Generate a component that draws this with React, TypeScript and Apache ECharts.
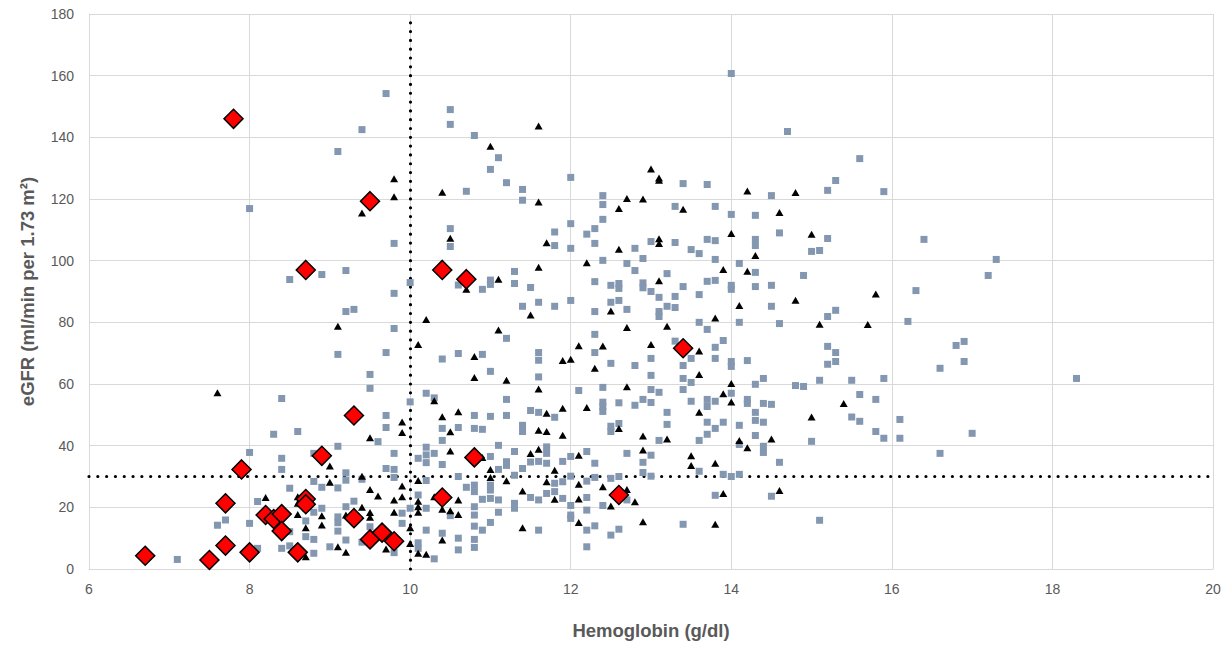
import React, { useEffect, useRef } from "react";
import * as echarts from "echarts";

const xTicks = [6, 8, 10, 12, 14, 16, 18, 20];
const yTicks = [0, 20, 40, 60, 80, 100, 120, 140, 160, 180];
const hbCutoff = 10;
const egfrCutoff = 30;

// gray squares
const squares: number[][] = [
  [9.4,142.5],[9.1,135.4],[8.0,116.9],
  [9.7,154.2],[10.5,149],[10.5,144.2],[10.8,140.6],[11.1,133.4],[11.0,129.6],[11.2,125.3],[11.4,123.1],[11.4,119.6],[12.0,127],[10.7,122.5],[10.5,110.4],[12.4,121.1],[12.4,118.2],[12.4,113.4],[11.8,109.3],[12.0,112],[12.3,110.4],[12.2,108.6],
  [14.0,160.7],[14.7,141.9],[15.6,133.1],[15.3,126],[15.2,122.8],[13.4,125],[13.7,124.7],[13.3,117.6],[13.8,117.6],[14.5,121.1],[14.0,115],[14.3,114.7],[14.6,109],
  [15.9,122.4],
  [16.4,106.9],[17.3,100.4],[17.2,95.2],[16.3,90.3],[16.2,80.3],[16.9,73.8],[16.8,72.5],[16.9,67.3],[16.6,65.1],[15.9,61.8],[18.3,61.8],
  [16.1,48.5],[15.9,42.4],[16.1,42.4],[17.0,44],[16.6,37.5],
  [8.5,93.9],[8.9,95.5],[9.2,96.8],[9.2,83.5],[9.3,84.2],[9.1,69.6],[9.5,63.1],[9.5,58.6],[8.4,55.3],
  [9.8,105.6],[10.5,104.6],[11.8,104.9],[12.0,104],[12.3,105.6],[12.4,100.1],[12.7,99.1],[10.0,92.9],[9.8,89.4],[10.6,92.1],[10.9,90.7],[11.0,93.7],[11.0,92.3],[11.3,96.5],[11.3,92.6],[11.5,91.3],[11.4,85.2],[11.6,86.5],[11.8,85.2],[12.0,87.1],[12.3,93.2],[12.5,92],[12.6,92.6],[12.6,91],[12.5,86.5],[12.6,87.1],[12.3,83.5],[12.7,84.2],[9.8,78],[11.2,74.8],[12.3,76.1],[9.7,70.2],[10.4,68.1],[10.6,69.9],[10.9,69.6],[11.6,70.2],[11.6,67.7],[12.3,70.2],[12.5,66.7],[11.0,64.1],[11.6,62.3],[12.1,57.9],[12.4,58.9],[10.2,57],[10.3,55.5],[10.0,54.2],[11.2,55],[12.4,54.1],[12.6,53.9],
  [13.0,106.2],[13.3,105.9],[12.8,104],[12.9,100.7],[13.5,103.6],[13.6,102.3],[13.7,106.9],[13.8,106.5],[14.3,106.9],[14.3,104.9],[15.2,107.2],[15.0,103],[15.1,103.3],[13.8,100.4],[12.8,96.8],[13.2,95.8],[14.1,99.1],[14.3,96.2],[14.9,95.2],[12.9,92.8],[12.9,91.2],[13.0,90],[13.4,91.6],[13.7,93.3],[13.8,93.6],[14.0,92],[14.0,90.7],[14.3,91.6],[14.5,92],[13.1,88.1],[13.3,88.4],[13.6,89],[13.2,85.2],[13.3,84.8],[13.1,83.5],[13.1,81.9],[14.5,85.2],[15.3,83.9],[15.2,81.9],[13.6,80],[14.1,80],[14.6,79.6],[13.7,77.7],[13.3,73.9],[13.9,74.1],[13.8,71.9],[15.2,72.2],[15.3,70.2],[13.0,68.3],[13.5,68.3],[13.8,68.3],[14.0,67.3],[14.0,65.7],[14.2,67.6],[15.3,67.3],[15.2,66.4],[12.8,66],[13.4,66],[13.0,62.8],[13.4,61.8],[14.4,61.8],[15.1,61.2],[15.5,61.2],[13.5,60.5],[14.3,59.9],[14.8,59.5],[14.9,59.2],[13.0,58.2],[13.4,58.2],[13.1,57.3],[14.0,57],[15.6,56.6],[12.9,55],[13.0,54],[13.5,54.4],[13.7,55],[13.8,54.4],[14.2,55],[14.2,53.7],[14.4,53.7],[14.5,53.4],[15.8,55],
  [12.8,53.1],[13.7,52.7],[13.2,50.8],[15.5,49.3],[15.6,47.9],[14.3,50.8],[13.7,47.6],[13.9,47.6],[13.2,46.9],[13.8,45.6],[14.1,46.6],[14.3,48.2],[14.4,47.6],[15.8,44.6],[13.1,41.7],[13.7,43.7],[13.6,41.7],[14.1,40.4],[14.3,43.3],[14.4,39.8],[14.4,37.8],[15.0,41.4],[13.0,36.9],[12.9,34.6],[14.6,34.6],[12.9,31.3],[13.0,30.1],[13.6,31.7],[13.9,30.7],[14.0,30],[14.1,30.7],[13.8,23.9],[14.5,23.6],[13.4,14.5],[15.1,15.8],
  [9.7,49.8],[9.7,45.9],[10.4,45.6],[10.6,45.9],[10.4,41.7],[10.8,49.8],[11.0,49.5],[11.2,49.8],[10.8,45.6],[10.9,45.3],[11.5,51.4],[11.6,50.8],[11.8,49.2],[11.4,46.6],[11.4,44.6],[11.1,40.1],[12.4,52.7],[12.4,51.1],[12.5,46.3],[12.5,44.6],[12.6,47.2],[9.8,37.5],[9.7,32.6],[9.8,32.3],[9.8,29.7],[9.9,18.1],[9.9,14.8],[10.2,39.5],[10.2,37],[10.2,34.5],[10.1,35.9],[10.3,37.5],[10.4,33.9],[11.0,36.5],[11.2,34.8],[11.2,33.6],[11.3,38.1],[11.1,32.3],[11.4,32.6],[11.5,34.7],[11.6,34.9],[11.7,39.6],[11.7,37.5],[11.7,34.3],[11.9,34.9],[12.0,36.5],[12.2,38.1],[12.3,34.3],[12.7,37.5],[10.6,30],[10.2,28.7],[11.0,27.2],[11.0,25.6],[10.7,26.5],[10.8,27.2],[10.8,25.1],[11.3,30.4],[11.5,23.2],[11.6,22.4],[11.7,24.5],[11.8,27.8],[11.8,25.1],[11.9,22.9],[11.9,28.3],[12.0,30.1],[12.2,28.5],[12.2,23.2],[12.2,19.1],[12.4,20.6],[12.7,22.4],[12.5,29.4],[12.3,29.7],[12.6,30],[12.0,20.6],[12.0,17.5],[12.0,16.4],[12.2,12.6],[12.3,14],[12.2,7.2],[12.5,11],[12.6,12.9],[11.6,12.6],[11.3,21.3],[11.3,19.7],[11.1,22.4],[11.1,18.4],[10.9,22.6],[11.0,22.9],[10.8,20.2],[10.8,17.5],[11.0,15.1],[10.9,12.6],[10.8,13.9],[10.8,9.6],[10.8,7],[10.5,17.3],[10.2,19.7],[10.1,24],[10.0,19.7],[10.2,12.6],[10.4,11.6],[10.6,10],[10.6,6.2],[10.1,8.5],[10.1,6.7],[10.3,3.3],[9.8,5.3],
  [8.3,43.7],[8.6,44.6],[9.6,41.3],[9.1,39.8],[8.0,37.8],[8.4,35.9],[8.4,32.3],[8.8,37.5],[9.2,31.2],[9.2,28.8],[9.1,26.3],[9.4,29.1],[8.8,28.4],[8.9,26.5],[8.5,26.2],[8.1,21.9],[8.7,19.7],[8.8,18.4],[8.9,19.7],[8.7,15.6],[9.1,16.9],[9.1,15],[9.0,7.2],[9.1,12.3],[9.2,9.4],[9.2,20.2],[9.5,13.7],[9.4,8.7],[9.3,22],[8.8,9.6],[8.7,10.5],[8.5,7.5],[8.4,6.7],[8.8,5.1],[8.5,12.1],[8.1,6.7],[8.0,14.8],[7.7,15.9],[7.6,14.2],[7.1,3.1]
];

// black triangles
const triangles: number[][] = [
  [9.4,115.5],
  [11.6,143.7],[11.0,137.1],[11.6,119],[9.8,126.6],[9.8,120.7],[10.4,122.2],[12.6,116.9],[12.7,120.2],
  [13.0,129.7],[13.1,126.1],[13.1,126.8],[12.9,120],[13.4,116.7],[14.2,122.6],[14.8,122.1],[14.6,115.6],[15.0,108.6],[14.0,108.8],
  [9.1,78.7],[7.6,57.2],
  [10.5,107.3],[11.7,105.8],[12.6,103.7],[12.2,99.3],[10.7,90.7],[11.1,94],[11.6,97.9],[11.5,82.4],[12.5,83.7],[10.2,80.9],[11.1,77.5],[12.7,78.3],[10.1,72.8],[10.8,68.9],[11.9,67.6],[12.0,68],[12.1,72.4],[12.4,72.3],[12.3,65.1],[10.8,62.1],[11.2,61.2],[11.6,58.4],[12.7,59.1],[10.3,54.6],
  [13.1,107.1],[13.1,105.6],[14.3,101.7],[13.9,97.1],[14.2,96.6],[13.1,93.5],[15.8,89.2],[14.8,87.2],[14.1,85.5],[13.8,81.4],[15.1,79.4],[15.7,79.3],[13.2,78.7],[13.0,72.8],[13.6,70.7],[13.6,63.1],[14.0,60.2],[13.9,56.8],[14.0,54.2],[15.4,53.7],
  [13.6,50.8],[15.0,49.3],[12.9,43.1],[13.2,42.2],[14.1,41.7],[14.5,42.2],[14.2,39.3],[12.9,38.6],[13.5,36.7],[13.5,33.6],[13.8,34.3],[13.9,24.5],[14.6,25.5],[12.8,21.8],[12.9,15.3],[13.8,14.5],
  [9.9,47.7],[9.9,44.3],[10.4,49.4],[10.6,51],[10.5,44.5],[11.7,50.5],[11.9,52.1],[11.6,45],[11.7,44.6],[11.9,43.4],[12.2,52.4],[12.6,45.6],[9.9,26.9],[9.9,23.4],[9.8,22.4],[9.8,18.4],[10.5,38.3],[10.9,36.2],[11.0,32.3],[11.5,37.5],[11.6,38.8],[11.8,32],[12.1,36.9],[10.1,28.7],[11.0,29.7],[11.2,28.6],[11.4,25.3],[11.7,28.3],[11.8,22.6],[12.1,27.5],[12.1,22.7],[12.4,26.7],[12.5,20.4],[12.7,25.8],[12.1,15.1],[11.4,13.4],[10.6,22.4],[10.5,18.9],[10.6,17.7],[10.3,23.4],[10.4,19.4],[10.1,22],[10.1,20.2],[10.1,18.4],[10.0,13.4],[10.4,9.4],[10.1,5.1],[10.2,4.8],[9.7,6.5],[10.0,8.3],
  [9.5,42.6],[9.0,33.4],[9.0,28.1],[9.4,30.1],[9.5,25.8],[9.6,23.7],[8.2,23.2],[8.6,23.4],[8.6,21.3],[8.9,17.3],[8.6,17.7],[8.7,13.4],[8.9,14.3],[9.1,7.2],[9.2,5.4],[9.2,17.5],[9.4,20],[9.5,18.3],[9.5,16.8],[8.7,4],[8.0,5.6]
];

// red diamonds
const diamonds: number[][] = [
  [6.7,4.3],[7.5,2.9],[7.7,7.6],[7.7,21.3],[7.8,146],[7.9,32.3],[8.0,5.4],[8.2,17.5],[8.3,16.2],[8.4,17.8],[8.4,12.3],[8.6,5.4],[8.7,22.7],[8.7,21.0],[8.7,97],[8.9,36.7],[9.3,49.8],[9.3,16.5],[9.5,9.6],[9.5,119.3],[9.65,11.8],[9.8,9.0],[10.4,97],[10.4,23.2],[10.7,94],[10.8,36.2],[12.6,24],[13.4,71.6]
];

const xTitle = "Hemoglobin (g/dl)";
const yTitle = "eGFR (ml/min per 1.73 m\u00B2)";

export default function App() {
  const ref = useRef<HTMLDivElement>(null);
  useEffect(() => {
    if (!ref.current) return;
    const chart = echarts.init(ref.current, undefined, { renderer: "svg" });
    const labelColor = "#595959";
    const font = "'Liberation Sans', Arial, sans-serif";
    chart.setOption({
      animation: false,
      backgroundColor: "#ffffff",
      grid: { left: 89, right: 18, top: 14, bottom: 76, containLabel: false },
      xAxis: {
        type: "value",
        min: xTicks[0],
        max: xTicks[xTicks.length - 1],
        interval: 2,
        name: xTitle,
        nameLocation: "middle",
        nameGap: 52,
        nameTextStyle: { color: labelColor, fontSize: 18.5, fontWeight: "bold", fontFamily: font },
        axisLine: { show: true, lineStyle: { color: "#d9d9d9" } },
        axisTick: { show: false },
        axisLabel: { color: labelColor, fontSize: 14, fontFamily: font, margin: 13 },
        splitLine: { show: true, lineStyle: { color: "#d9d9d9", width: 1 } },
      },
      yAxis: {
        type: "value",
        min: yTicks[0],
        max: yTicks[yTicks.length - 1],
        interval: 20,
        name: yTitle,
        nameLocation: "middle",
        nameGap: 52,
        nameRotate: 90,
        nameTextStyle: { color: labelColor, fontSize: 18.5, fontWeight: "bold", fontFamily: font },
        axisLine: { show: true, lineStyle: { color: "#d9d9d9" } },
        axisTick: { show: false },
        axisLabel: { color: labelColor, fontSize: 14, fontFamily: font, margin: 15 },
        splitLine: { show: true, lineStyle: { color: "#d9d9d9", width: 1 } },
      },
      series: [
        {
          type: "scatter",
          data: squares,
          symbol: "rect",
          symbolSize: 7,
          z: 2,
          itemStyle: { color: "#8497b0", opacity: 1 },
          markLine: {
            silent: true,
            z: 1,
            symbol: ["none", "none"],
            label: { show: false },
            lineStyle: { color: "#000000", width: 3.2, type: [0.01, 8.8], cap: "round", opacity: 1 },
            emphasis: { disabled: true },
            data: [{ xAxis: hbCutoff }, { yAxis: egfrCutoff }],
          },
        },
        {
          type: "scatter",
          data: triangles,
          symbol: "triangle",
          symbolSize: [8, 7],
          z: 3,
          itemStyle: { color: "#000000", opacity: 1 },
        },
        {
          type: "scatter",
          data: diamonds,
          symbol: "diamond",
          symbolSize: 19,
          z: 4,
          itemStyle: { color: "#ff0000", borderColor: "#000000", borderWidth: 1.5, opacity: 1 },
        },
      ],
    });
    return () => chart.dispose();
  }, []);
  return (
    <div
      ref={ref}
      style={{ position: "fixed", left: 0, top: 0, width: 1231, height: 645, background: "#fff" }}
    />
  );
}
